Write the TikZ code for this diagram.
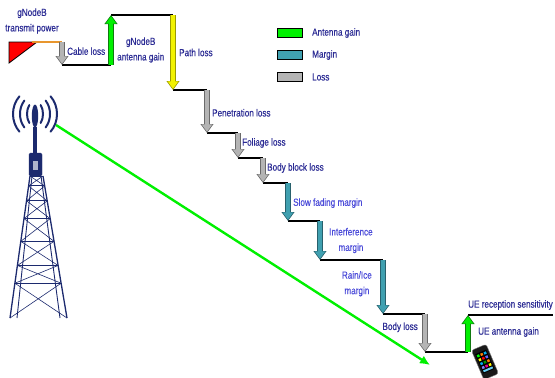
\documentclass[tikz,border=0pt]{standalone}
\usepackage{fontspec}
\setmainfont{Liberation Sans}[FakeStretch=0.79, FakeBold=0.35]
\usetikzlibrary{arrows.meta,calc,positioning}

\definecolor{lblblue}{HTML}{2C2C94}
\definecolor{mrgblue}{HTML}{4A4AD8}
\definecolor{loss}{HTML}{B4B4B4}
\definecolor{lossd}{HTML}{6A6A6A}
\definecolor{margin}{HTML}{40A0B0}
\definecolor{margind}{HTML}{28606C}
\definecolor{gain}{HTML}{00F000}
\definecolor{gaind}{HTML}{107A10}
\definecolor{path}{HTML}{F2F200}
\definecolor{pathd}{HTML}{9A9A00}
\definecolor{cable}{HTML}{E8962E}
\definecolor{tower}{HTML}{1C2A6E}

\tikzset{
    x=1pt, y=-1pt,
    lbl/.style={text=lblblue, font=\fontsize{10.3}{15.5}\selectfont, inner sep=1pt, align=center},
    mlbl/.style={lbl, text=mrgblue},
    stair/.style={draw=black, line width=1.8pt},
    shell/.style={draw=#1d, line width=5.2pt, -{Triangle[length=9pt,width=12.5pt]}},
    core/.style={draw=#1, line width=3.4pt, -{Triangle[length=7.4pt,width=10pt]}, shorten >=1.2pt},
    swatch/.style={draw=black, line width=1pt, minimum width=25pt, minimum height=9pt, inner sep=0pt},
    mast/.style={draw=tower, line width=0.9pt}
}

\begin{document}
\begin{tikzpicture}
    \useasboundingbox (0,0) rectangle (555,378);

    % corners of the staircase
    \coordinate (s0) at (62,42);
    \coordinate (s1) at (62,65);
    \coordinate (s2) at (111,65);
    \coordinate (s3) at (111,15);
    \coordinate (s4) at (173,15);
    \coordinate (s5) at (173,90);
    \coordinate (s6) at (207,90);
    \coordinate (s7) at (207,133);
    \coordinate (s8) at (238,133);
    \coordinate (s9) at (238,158);
    \coordinate (s10) at (263,158);
    \coordinate (s11) at (263,183);
    \coordinate (s12) at (288,183);
    \coordinate (s13) at (288,221);
    \coordinate (s14) at (320,221);
    \coordinate (s15) at (320,260);
    \coordinate (s16) at (383,260);
    \coordinate (s17) at (383,314);
    \coordinate (s18) at (425,314);
    \coordinate (s19) at (425,352);
    \coordinate (s20) at (468,352);
    \coordinate (s21) at (468,315);
    \coordinate (s22) at (553,315);

    % transmitter
    \coordinate (tp) at (32,42);
    \filldraw[fill=red, draw=black, line width=0.8pt] (9,42) -- (37,42) -- (9,63) -- cycle;
    \draw[draw=cable, line width=2pt] (tp) -- (s0);
    \node[lbl] (txp) at (32,21) {gNodeB\\transmit power};

    % flat parts
    \foreach \a/\b in {s1/s2, s3/s4, s5/s6, s7/s8, s9/s10, s11/s12, s13/s14, s15/s16, s17/s18, s19/s20, s21/s22}
        \draw[stair] (\a) -- (\b);

    % gains, losses and margins
    \foreach \a/\b/\c in {s0/s1/loss, s2/s3/gain, s4/s5/path, s6/s7/loss, s8/s9/loss, s10/s11/loss,
                          s12/s13/margin, s14/s15/margin, s16/s17/margin, s18/s19/loss, s20/s21/gain} {
        \draw[shell=\c] (\a) -- (\b);
        \draw[core=\c] (\a) -- (\b);
    }

    \path (s0) -- node[lbl, right=4pt, pos=0.4] {Cable loss} (s1);
    \path (s2) -- node[lbl, right=5pt, pos=0.3] {gNodeB\\antenna gain} (s3);
    \path (s4) -- node[lbl, right=5pt] {Path loss} (s5);
    \path (s6) -- node[lbl, right=4pt, pos=0.53] {Penetration loss} (s7);
    \path (s8) -- node[lbl, right=3pt, pos=0.4] {Foliage loss} (s9);
    \path (s10) -- node[lbl, right=3pt, pos=0.4] {Body block loss} (s11);
    \path (s12) -- node[mlbl, right=4pt, pos=0.53] {Slow fading margin} (s13);
    \path (s14) -- node[mlbl, right=8pt] {Interference\\margin} (s15);
    \path (s16) -- node[mlbl, left=10pt, pos=0.44] {Rain/Ice\\margin} (s17);
    \path (s18) -- node[lbl, left=6pt, pos=0.35] {Body loss} (s19);
    \path (s20) -- node[lbl, right=9pt, pos=0.54] {UE antenna gain} (s21);
    \node[lbl, above right=4pt and -1pt of s21] (sens) {UE reception sensitivity};

    % legend
    \node[swatch, fill=gain] (k1) at (290,33) {};
    \node[swatch, fill=margin, below=12pt of k1] (k2) {};
    \node[swatch, fill=loss, below=12pt of k2] (k3) {};
    \node[lbl, right=8pt of k1] {Antenna gain};
    \node[lbl, right=8pt of k2] {Margin};
    \node[lbl, right=8pt of k3] {Loss};

    % tower
    \coordinate (tl) at (30,176);
    \coordinate (bl) at (10,318);
    \coordinate (tr) at (43,176);
    \coordinate (br) at (67,318);
    \draw[mast, line width=1.3pt] (tl) -- (bl) (tr) -- (br);
    \draw[mast] (32,176) -- (17,318) (41,176) -- (60,318);
    \foreach \u/\v in {0/0.07, 0.07/0.175, 0.175/0.30, 0.30/0.46, 0.46/0.63, 0.63/0.755, 0.755/1} {
        \draw[mast] ($(tl)!\u!(bl)$) -- ($(tr)!\u!(br)$);
        \draw[mast, line width=0.6pt] ($(tl)!\u!(bl)$) -- ($(tr)!\v!(br)$)
                                      ($(tr)!\u!(br)$) -- ($(tl)!\v!(bl)$);
    }
    \filldraw[fill=tower, draw=tower, rounded corners=1.5pt] (29,153) rectangle (42,176);
    \fill[tower!35] (33,161) rectangle (38,170);
    \draw[tower, line width=3.5pt] (35,127) -- (35,153);
    \fill[tower] (35,116) ellipse (3.2pt and 11.5pt);
    \coordinate (ant) at (35,114);
    \foreach \r/\h in {8/12.7, 15/19, 22/25} {
        \draw[tower, line width=2pt, line cap=round] (ant) ++(135:\r pt and \h pt) arc[start angle=135, end angle=225, x radius=\r pt, y radius=\h pt];
        \draw[tower, line width=2pt, line cap=round] (ant) ++(-45:\r pt and \h pt) arc[start angle=-45, end angle=45, x radius=\r pt, y radius=\h pt];
    }

    % handset
    \begin{scope}[shift={(485,362)}, rotate=23]
        \filldraw[fill=black!90, draw=black!45, rounded corners=2.5pt] (-8,-16) rectangle (8,16);
        \fill[black] (-6,-11) rectangle (6,10);
        \foreach \i/\j/\c in {0/0/green, 1/0/orange, 2/0/cyan, 0/1/yellow, 1/1/red, 2/1/blue!60,
                              0/2/cyan, 1/2/green!60!black, 2/2/orange, 0/3/blue!50, 1/3/magenta, 2/3/yellow}
            \fill[\c] (-5+\i*3.7,-9.5+\j*4.2) rectangle ++(2.5,2.5);
        \fill[cyan!60] (-5,7) rectangle (5,9);
    \end{scope}

    % downlink to the handset
    \coordinate (tx) at (56,125);
    \coordinate (rx) at (430,365);
    \draw[draw=gain, line width=2.4pt, -{Latex[length=10pt,width=9pt]}] (tx) -- (rx);
\end{tikzpicture}
\end{document}
